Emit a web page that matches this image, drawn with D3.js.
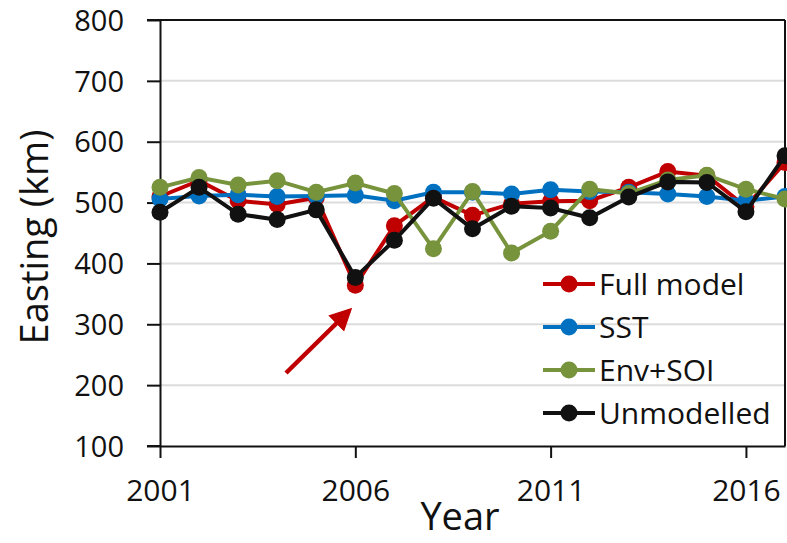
<!DOCTYPE html>
<html>
<head>
<meta charset="utf-8">
<script src="https://cdn.jsdelivr.net/npm/d3@7"></script>
<style>
  body { margin: 0; background: #fff; }
  text { font-family: "Open Sans", "Noto Sans", sans-serif; fill: #111; }
</style>
</head>
<body>
<div id="chart"></div>
<script>
// Data
const years = d3.range(2001, 2018);
const fullModel = [510, 536, 503, 497, 508, 364, 462, 509, 479, 498, 502, 503, 525, 551, 544, 493, 566];
const sst = [506, 511, 513, 510, 511, 512, 503, 517, 517, 514, 521, 518, 517, 514, 510, 503, 510];
const envSoi = [525, 541, 529, 536, 517, 532, 515, 424, 518, 417, 453, 522, 515, 537, 545, 522, 506];
const unmodelled = [484, 525, 481, 472, 488, 377, 438, 507, 457, 494, 491, 475, 509, 534, 533, 485, 577];
const seriesNames = ["Full model", "SST", "Env+SOI", "Unmodelled"];
const seriesColors = ["#c00000", "#0070c0", "#77933c", "#111111"];
const yTicks = [100, 200, 300, 400, 500, 600, 700, 800];
const xTicks = [2001, 2006, 2011, 2016];

const series = [fullModel, sst, envSoi, unmodelled].map((vals, i) => ({
    name: seriesNames[i],
    color: seriesColors[i],
    values: vals.map((v, j) => ({ year: years[j], value: v }))
}));

const W = 787, H = 543;
const svg = d3.select("#chart").append("svg")
    .attr("width", W).attr("height", H);

const x = d3.scaleLinear().domain([2001, 2017]).range([160, 785]);
const y = d3.scaleLinear().domain([100, 800]).range([446, 20]);

// gridlines
svg.append("g")
    .selectAll("line")
    .data(yTicks.filter(t => t > 100 && t < 800))
    .enter().append("line")
    .attr("x1", 160).attr("x2", 785)
    .attr("y1", d => y(d)).attr("y2", d => y(d))
    .attr("stroke", "#dcdcdc").attr("stroke-width", 2);

// frame top + right
svg.append("line").attr("x1", 147).attr("x2", 785).attr("y1", y(800)).attr("y2", y(800))
    .attr("stroke", "#111").attr("stroke-width", 2);
svg.append("line").attr("x1", 785).attr("x2", 785).attr("y1", y(800)).attr("y2", y(100))
    .attr("stroke", "#111").attr("stroke-width", 2);

// axes
const yAxis = svg.append("g")
    .attr("transform", `translate(160,0)`)
    .call(d3.axisLeft(y).tickValues(yTicks).tickSize(13).tickPadding(23).tickSizeOuter(0));
yAxis.select(".domain").attr("stroke", "#111").attr("stroke-width", 2);
yAxis.selectAll(".tick line").attr("stroke", "#111").attr("stroke-width", 2);
yAxis.selectAll("text").style("font-size", "29px").attr("dy", "0.35em");

const xAxis = svg.append("g")
    .attr("transform", `translate(0,446)`)
    .call(d3.axisBottom(x).tickValues(xTicks).tickFormat(d3.format("d")).tickSize(12).tickPadding(22).tickSizeOuter(0));
xAxis.select(".domain").attr("stroke", "#111").attr("stroke-width", 2);
xAxis.selectAll(".tick line").attr("stroke", "#111").attr("stroke-width", 2);
xAxis.selectAll("text").style("font-size", "30px");
// extend x axis left past the y axis
svg.append("line").attr("x1", 147).attr("x2", 160).attr("y1", 446).attr("y2", 446)
    .attr("stroke", "#111").attr("stroke-width", 2);

// axis titles
svg.append("text")
    .attr("transform", "translate(48,237) rotate(-90)")
    .attr("text-anchor", "middle")
    .style("font-size", "38px")
    .text("Easting (km)");
svg.append("text")
    .attr("x", 460).attr("y", 530)
    .attr("text-anchor", "middle")
    .style("font-size", "38px")
    .text("Year");

// lines + markers
const line = d3.line().x(d => x(d.year)).y(d => y(d.value));
const plot = svg.append("g");
series.forEach(s => {
    plot.append("path")
        .datum(s.values)
        .attr("fill", "none")
        .attr("stroke", s.color)
        .attr("stroke-width", 4)
        .attr("d", line);
    plot.selectAll(null)
        .data(s.values)
        .enter().append("circle")
        .attr("cx", d => x(d.year))
        .attr("cy", d => y(d.value))
        .attr("r", 8.5)
        .attr("fill", s.color);
});

// legend
const legend = svg.append("g");
series.forEach((s, i) => {
    const ly = 284 + i * 43;
    legend.append("line")
        .attr("x1", 543).attr("x2", 595).attr("y1", ly).attr("y2", ly)
        .attr("stroke", s.color).attr("stroke-width", 4);
    legend.append("circle")
        .attr("cx", 569).attr("cy", ly).attr("r", 8.5).attr("fill", s.color);
    legend.append("text")
        .attr("x", 599).attr("y", ly).attr("dy", "0.35em")
        .style("font-size", "30px")
        .text(s.name);
});

// arrow pointing to 2006 dip
svg.append("defs").append("marker")
    .attr("id", "head")
    .attr("viewBox", "0 0 10 10")
    .attr("refX", 8).attr("refY", 5)
    .attr("markerWidth", 5).attr("markerHeight", 5)
    .attr("orient", "auto")
    .append("path").attr("d", "M0,0 L10,5 L0,10 z").attr("fill", "#c00000");
svg.append("line")
    .attr("x1", 286).attr("y1", 373).attr("x2", 349).attr("y2", 311)
    .attr("stroke", "#c00000").attr("stroke-width", 4.5)
    .attr("marker-end", "url(#head)");
</script>
</body>
</html>
